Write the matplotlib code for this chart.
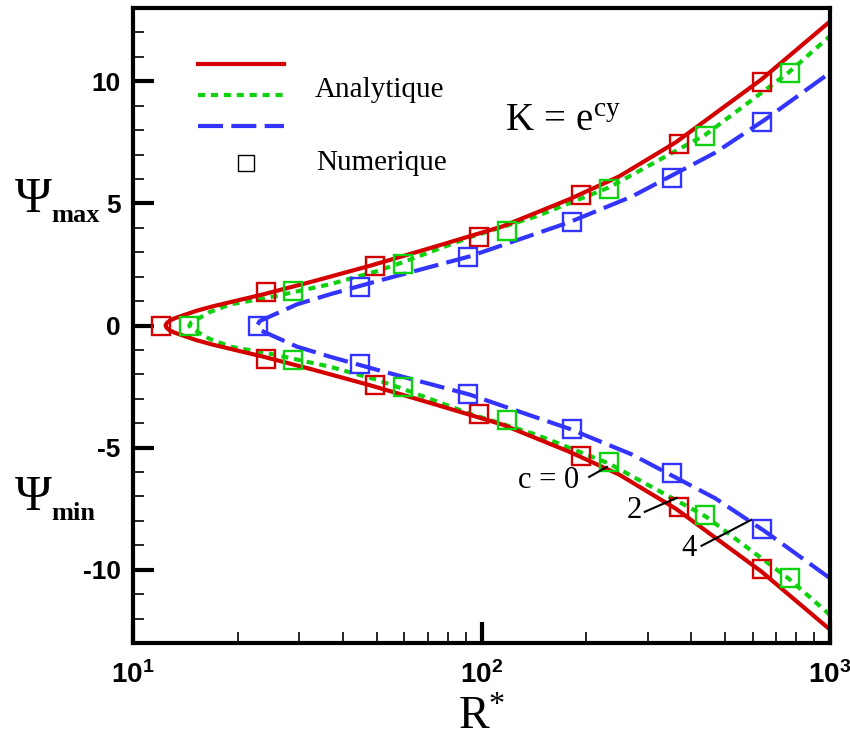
import matplotlib
matplotlib.use("Agg")
import matplotlib.pyplot as plt
from matplotlib.lines import Line2D
from matplotlib.ticker import FixedLocator, NullFormatter

plt.rcParams['axes.unicode_minus'] = False
plt.rcParams['mathtext.fontset'] = 'custom'
plt.rcParams['mathtext.rm'] = 'Liberation Serif'
plt.rcParams['mathtext.it'] = 'Liberation Serif:italic'
plt.rcParams['mathtext.bf'] = 'Liberation Sans:bold'

# Analytical curves, upper branch (Psi_max); Psi_min is the mirror image
r_c0 = [12.4, 12.5, 12.75, 13.2, 13.7, 15.2, 17.0, 20.0, 23.7, 32.9, 48.0, 74.0, 115.0, 178.0, 248.0, 361.0, 635.0, 1000.0]
psi_c0 = [0.0, 0.1, 0.2, 0.3, 0.38, 0.6, 0.79, 1.03, 1.28, 1.81, 2.45, 3.24, 4.06, 5.16, 6.1, 7.5, 10.07, 12.45]

r_c2 = [14.5, 14.67, 15.3, 16.6, 19.1, 24.8, 36.8, 50.0, 59.4, 92.5, 143.6, 232.0, 440.0, 759.0, 1000.0]
psi_c2 = [0.0, 0.12, 0.26, 0.55, 0.87, 1.16, 1.69, 2.22, 2.59, 3.61, 4.47, 5.65, 7.82, 10.35, 11.85]

r_c4 = [22.7, 23.1, 24.8, 29.6, 36.8, 50.0, 92.5, 178.0, 270.0, 469.0, 651.0, 1000.0]
psi_c4 = [0.0, 0.18, 0.38, 0.87, 1.28, 1.81, 2.83, 4.22, 5.28, 7.08, 8.43, 10.35]

# Numerical results (upper branch)
rn_c0 = [12.0, 24.0, 49.5, 98.6, 193.0, 368.0, 640.0]
psin_c0 = [0.0, 1.36, 2.42, 3.64, 5.36, 7.45, 9.98]

rn_c2 = [14.5, 28.8, 59.4, 118.6, 232.0, 437.0, 769.0]
psin_c2 = [0.0, 1.40, 2.50, 3.85, 5.57, 7.74, 10.35]

rn_c4 = [22.9, 44.8, 91.2, 181.5, 351.0, 640.0]
psin_c4 = [0.0, 1.57, 2.79, 4.22, 6.05, 8.35]

y_ticks = [-10, -5, 0, 5, 10]
x_ticks = [10, 100, 1000]
x_tick_labels = [r'$\mathbf{10^{1}}$', r'$\mathbf{10^{2}}$', r'$\mathbf{10^{3}}$']

RED = '#d40000'
GREEN = '#0fd20f'
BLUE = '#3434ff'

W, H = 850, 740
fig = plt.figure(figsize=(W / 100, H / 100), dpi=100)
ax = fig.add_axes([133 / W, 1 - 643 / H, (830 - 133) / W, (643 - 8) / H])


def both_branches(r, psi):
    rr = list(reversed(r)) + list(r[1:])
    pp = [-p for p in reversed(psi)] + list(psi[1:])
    return rr, pp


def mirrored(r, psi):
    return list(r) + list(r[1:]), list(psi) + [-p for p in psi[1:]]


lw = 3.0
x, y = both_branches(r_c4, psi_c4)
ax.plot(x, y, color=BLUE, lw=lw, dashes=(6, 2.0), solid_capstyle='butt')
x, y = both_branches(r_c2, psi_c2)
ax.plot(x, y, color=GREEN, lw=lw, dashes=(1.7, 1.4))
x, y = both_branches(r_c0, psi_c0)
ax.plot(x, y, color=RED, lw=lw)

msize = 13
for rn, pn, col in [(rn_c0, psin_c0, RED), (rn_c2, psin_c2, GREEN), (rn_c4, psin_c4, BLUE)]:
    x, y = mirrored(rn, pn)
    ax.plot(x, y, ls='none', marker='s', ms=msize, mfc='none', mec=col, mew=1.7)

ax.set_xscale('log')
ax.set_xlim(10, 1000)
ax.set_ylim(-13, 13)

ax.set_xticks(x_ticks)
ax.set_xticklabels(x_tick_labels)
ax.xaxis.set_minor_locator(FixedLocator([m * d for d in (10, 100) for m in range(2, 10)]))
ax.xaxis.set_minor_formatter(NullFormatter())
ax.set_yticks(y_ticks)
ax.set_yticklabels([str(v) for v in y_ticks])
ax.yaxis.set_minor_locator(FixedLocator([v for v in range(-12, 13) if v % 5 != 0]))

ax.tick_params(which='both', direction='in', top=False, right=False)
ax.tick_params(which='major', length=15, width=3, pad=9)
ax.tick_params(which='minor', length=8, width=1.2)
ax.tick_params(axis='y', which='major', labelsize=19)
ax.tick_params(axis='x', which='major', labelsize=20, pad=13)
for lab in ax.get_yticklabels():
    lab.set_fontfamily('Liberation Sans')
    lab.set_fontweight('bold')
for sp in ax.spines.values():
    sp.set_linewidth(3.0)

# Axis titles
fig.text(15 / W, 1 - 212 / H, 'Ψ', family='Liberation Serif', fontsize=36, va='baseline')
fig.text(51 / W, 1 - 222 / H, 'max', family='Liberation Serif', fontweight='bold', fontsize=19, va='baseline')
fig.text(15 / W, 1 - 510 / H, 'Ψ', family='Liberation Serif', fontsize=36, va='baseline')
fig.text(51 / W, 1 - 520 / H, 'min', family='Liberation Serif', fontweight='bold', fontsize=19, va='baseline')
fig.text(482 / W, 1 - 729 / H, r'$\mathrm{R^{*}}$', fontsize=33, ha='center', va='baseline')

# Legend
fig.add_artist(Line2D([198 / W, 284 / W], [1 - 64 / H] * 2, color=RED, lw=lw))
fig.add_artist(Line2D([198 / W, 284 / W], [1 - 95 / H] * 2, color=GREEN, lw=lw, dashes=(1.7, 1.4)))
fig.add_artist(Line2D([198 / W, 284 / W], [1 - 126 / H] * 2, color=BLUE, lw=lw, dashes=(6, 2.0)))
fig.add_artist(Line2D([246 / W], [1 - 163 / H], ls='none', marker='s', ms=12, mfc='none', mec='black', mew=1.0))
fig.text(315 / W, 1 - 90 / H, 'Analytique', family='Liberation Serif', fontsize=21, va='center')
fig.text(316 / W, 1 - 163 / H, 'Numerique', family='Liberation Serif', fontsize=21, va='center')
fig.text(505 / W, 1 - 120 / H, r'$\mathrm{K}\,=\,\mathrm{e}^{\mathrm{cy}}$', fontsize=28, va='center')

# Curve labels with leader lines
ax.text(190.6, -6.36, 'c = 0', family='Liberation Serif', fontsize=22, ha='right', va='center')
ax.plot([203.6, 229.0], [-6.20, -5.79], color='black', lw=1.5)
ax.text(273.5, -7.59, '2', family='Liberation Serif', fontsize=22, ha='center', va='center')
ax.plot([294.0, 363.0], [-7.63, -7.06], color='black', lw=1.5)
ax.text(395.0, -9.14, '4', family='Liberation Serif', fontsize=22, ha='center', va='center')
ax.plot([428.0, 594.0], [-9.02, -7.96], color='black', lw=1.5)

fig.savefig('out.png', dpi=100)
